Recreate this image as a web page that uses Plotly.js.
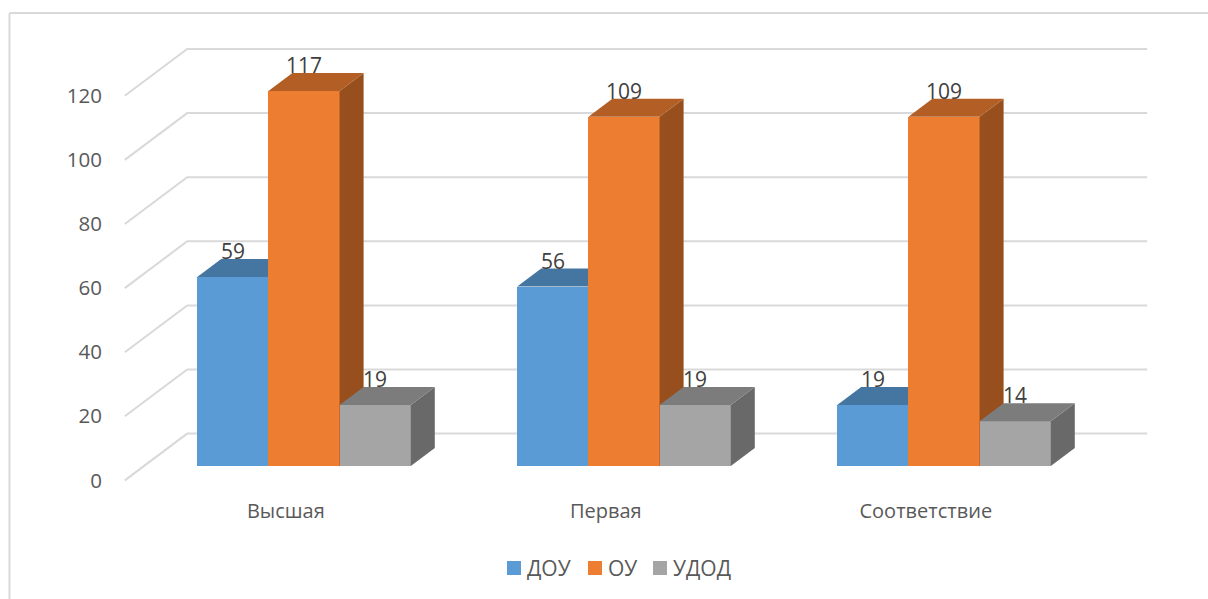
<!DOCTYPE html>
<html lang="ru">
<head>
<meta charset="utf-8">
<script src="https://cdn.plot.ly/plotly-3.0.1.min.js"></script>
<style>html,body{margin:0;padding:0;background:#fff;overflow:hidden}#chart{width:1208px;height:599px}</style>
</head>
<body>
<div id="chart"></div>
<script>
const categories = ['Высшая', 'Первая', 'Соответствие'];
const seriesNames = ['ДОУ', 'ОУ', 'УДОД'];
const dou = [59, 56, 19];
const ou = [117, 109, 109];
const udod = [19, 19, 14];
const yTicks = [0, 20, 40, 60, 80, 100, 120];
const frontColors = ['#5b9bd5', '#ed7d31', '#a5a5a5'];
const topColors = ['#4576a1', '#b25e25', '#7c7c7c'];
const sideColors = ['#37608a', '#97501d', '#696969'];
const legendKeyLeftPx = [507, 588, 653];

// plot geometry (pixels)
const W = 1208, H = 599;
const m = {l: 120, r: 48, t: 40, b: 111};
const pxPerCat = 320, pxPerVal = 3.205, cat0Px = 304, zeroPx = 466;
const xRange = [(m.l - cat0Px) / pxPerCat, (W - m.r - cat0Px) / pxPerCat];
const yRange = [(zeroPx - (H - m.b)) / pxPerVal, (zeroPx - m.t) / pxPerVal];

// pseudo-3D depth: d=1 is one bar depth behind the front plane of the bars
const dx = 24 / pxPerCat, dy = 18 / pxPerVal;
const floorFront = -0.8, floorBack = 1.8;
const barWidth = 71.2 / pxPerCat;
const labelLift = 26 / pxPerVal;
const allSeries = [dou, ou, udod];
const fontFamily = 'Open Sans, sans-serif';

const traces = [];
// walls: grid lines running along the left wall and across the back wall
const gx = [], gy = [];
yTicks.forEach(v => {
  gx.push(-0.5 + floorFront * dx, -0.5 + floorBack * dx, categories.length - 0.5 + floorBack * dx, null);
  gy.push(v + floorFront * dy, v + floorBack * dy, v + floorBack * dy, null);
});
traces.push({type: 'scatter', mode: 'lines', x: gx, y: gy, line: {color: '#d9d9d9', width: 2},
  showlegend: false, hoverinfo: 'skip', xaxis: 'x', yaxis: 'y'});

// each series has its own overlaid subplot so it paints over the one to its left
allSeries.forEach((vals, s) => {
  const ax = s + 2;
  const xa = 'x' + ax, ya = 'y' + ax;
  const centers = vals.map((_, i) => i + (s - 1) * barWidth);
  const sideX = [], sideY = [], topX = [], topY = [];
  vals.forEach((v, i) => {
    const L = centers[i] - barWidth / 2, R = centers[i] + barWidth / 2;
    sideX.push(R, R + dx, R + dx, R, R, null);
    sideY.push(0, dy, v + dy, v, 0, null);
    topX.push(L, R, R + dx, L + dx, L, null);
    topY.push(v, v, v + dy, v + dy, v, null);
  });
  traces.push({type: 'bar', name: seriesNames[s], x: centers, y: vals, width: barWidth,
    marker: {color: frontColors[s], line: {width: 0}}, xaxis: xa, yaxis: ya, hoverinfo: 'y', showlegend: false});
  traces.push({type: 'scatter', mode: 'lines', x: sideX, y: sideY, fill: 'toself', fillcolor: sideColors[s],
    line: {width: 0, color: sideColors[s]}, showlegend: false, hoverinfo: 'skip', xaxis: xa, yaxis: ya});
  traces.push({type: 'scatter', mode: 'lines', x: topX, y: topY, fill: 'toself', fillcolor: topColors[s],
    line: {width: 0, color: topColors[s]}, showlegend: false, hoverinfo: 'skip', xaxis: xa, yaxis: ya});
});

const hidden = {range: yRange, visible: false, fixedrange: true};
const hiddenX = {range: xRange, visible: false, fixedrange: true};
const pw = W - m.l - m.r, ph = H - m.t - m.b;
const paperX = p => (p - m.l) / pw, paperY = p => 1 - (p - m.t) / ph;

const annotations = [];
allSeries.forEach((vals, s) => vals.forEach((v, i) => annotations.push({
  xref: 'x', yref: 'y', x: i + (s - 1) * barWidth, y: v + labelLift, text: String(v), showarrow: false,
  xanchor: 'center', yanchor: 'middle', font: {family: fontFamily, size: 21, color: '#404040'}
})));

const lineStyle = {color: '#d9d9d9', width: 2};
const shapes = [
  {type: 'line', xref: 'paper', yref: 'paper', x0: paperX(9.5), x1: paperX(9.5), y0: paperY(13), y1: paperY(599), line: lineStyle},
  {type: 'line', xref: 'paper', yref: 'paper', x0: paperX(9.5), x1: paperX(1208), y0: paperY(13), y1: paperY(13), line: lineStyle}
];
// legend keys and names
seriesNames.forEach((name, s) => {
  const left = legendKeyLeftPx[s];
  shapes.push({type: 'rect', xref: 'paper', yref: 'paper', x0: paperX(left), x1: paperX(left + 14),
    y0: paperY(575), y1: paperY(561), fillcolor: frontColors[s], line: {width: 0}});
  annotations.push({xref: 'paper', yref: 'paper', x: paperX(left + 18), y: paperY(568), text: name, showarrow: false,
    xanchor: 'left', yanchor: 'middle', font: {family: fontFamily, size: 21, color: '#595959'}});
});

const layout = {
  width: W, height: H, margin: m, paper_bgcolor: '#fff', plot_bgcolor: 'rgba(0,0,0,0)',
  showlegend: false, bargap: 0, barmode: 'overlay',
  font: {family: fontFamily, color: '#595959'},
  xaxis: {range: xRange, tickmode: 'array', tickvals: categories.map((_, i) => i + floorFront * dx + 1 / pxPerCat), ticktext: categories,
    showgrid: false, zeroline: false, showline: false, ticks: 'outside', ticklen: 5, tickcolor: 'rgba(0,0,0,0)',
    tickfont: {size: 20, color: '#595959'}, fixedrange: true},
  yaxis: {range: yRange, tickmode: 'array', tickvals: yTicks.map(v => v + floorFront * dy), ticktext: yTicks.map(String),
    showgrid: false, zeroline: false, showline: false, ticks: 'outside', ticklen: 13, tickcolor: 'rgba(0,0,0,0)',
    tickfont: {size: 20.5, color: '#595959'}, fixedrange: true},
  xaxis2: {...hiddenX, overlaying: 'x'}, yaxis2: {...hidden, overlaying: 'y'},
  xaxis3: {...hiddenX, overlaying: 'x'}, yaxis3: {...hidden, overlaying: 'y'},
  xaxis4: {...hiddenX, overlaying: 'x'}, yaxis4: {...hidden, overlaying: 'y'},
  annotations, shapes
};
Plotly.newPlot('chart', traces, layout, {displayModeBar: false, responsive: false});
</script>
</body>
</html>
